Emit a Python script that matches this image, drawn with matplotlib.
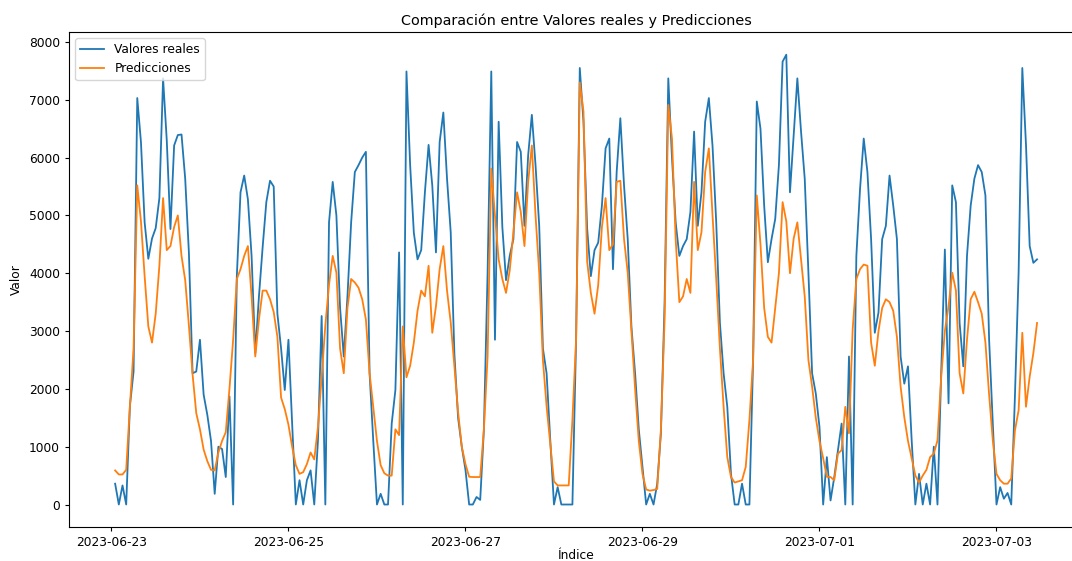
import numpy as np
import pandas as pd
import matplotlib
matplotlib.use('Agg')
import matplotlib.pyplot as plt
import matplotlib.dates as mdates

# hourly series, starting 2023-06-23 01:00
start = '2023-06-23 01:00'

valores_reales = [
  360, 0, 330, 0, 1700, 2300, 7030, 6270, 4880, 4250,
  4600, 4780, 5300, 7370, 6300, 4765, 6210, 6390, 6400, 5635,
  4360, 2270, 2300, 2850, 1900, 1550, 1100, 185, 1000, 960,
  475, 1870, 0, 3950, 5400, 5690, 5280, 4300, 2620, 3600,
  4450, 5230, 5600, 5500, 3300, 2700, 1980, 2850, 1400, 0,
  420, 0, 420, 590, 0, 1110, 3260, 0, 4880, 5580,
  5000, 3400, 2560, 3600, 4880, 5750, 5870, 6000, 6100, 2270,
  1100, 0, 185, 0, 0, 1400, 1980, 4360, 0, 7490,
  5870, 4700, 4240, 4400, 5400, 6220, 5520, 4360, 6270, 6780,
  5635, 4710, 2600, 1500, 1000, 600, 0, 0, 130, 80,
  1300, 4010, 7490, 2850, 6620, 4800, 3880, 4300, 4590, 6270,
  6100, 4820, 6040, 6740, 5870, 4820, 2700, 2270, 1110, 0,
  300, 0, 0, 0, 0, 2850, 7550, 6620, 4770, 3950,
  4400, 4530, 5170, 6160, 6330, 4070, 5750, 6680, 5520, 4590,
  3080, 2270, 1300, 650, 0, 185, 0, 360, 1230, 3500,
  7370, 6000, 4880, 4300, 4470, 4590, 5060, 6450, 4820, 5400,
  6620, 7030, 6200, 4880, 3140, 2270, 1690, 530, 0, 0,
  360, 0, 0, 2500, 6970, 6500, 5170, 4190, 4590, 4940,
  5870, 7660, 7780, 5400, 6400, 7370, 6450, 5635, 4010, 2270,
  1920, 1340, 0, 820, 70, 470, 940, 1400, 0, 2560,
  0, 4300, 5460, 6330, 5750, 4590, 2970, 3320, 4590, 4820,
  5690, 5170, 4590, 2560, 2090, 2390, 1110, 0, 530, 0,
  360, 0, 1000, 0, 2270, 4410, 1750, 5520, 5230, 3140,
  2390, 4300, 5170, 5635, 5870, 5750, 5345, 2850, 1400, 0,
  300, 100, 200, 0, 1870, 4010, 7550, 6220, 4470, 4180,
  4240,
]

predicciones = [
  590, 520, 520, 600, 1690, 2700, 5520, 4900, 3950, 3080,
  2800, 3300, 4130, 5300, 4400, 4470, 4800, 5000, 4300, 3880,
  3100, 2250, 1580, 1300, 950, 750, 600, 590, 900, 1100,
  1250, 2000, 2850, 3900, 4070, 4300, 4470, 3600, 2560, 3200,
  3700, 3700, 3550, 3330, 2900, 1850, 1650, 1380, 1000, 680,
  530, 560, 700, 900, 780, 1340, 2200, 3100, 3800, 4300,
  4010, 2700, 2270, 3400, 3900, 3840, 3750, 3550, 3200, 2270,
  1690, 1100, 680, 540, 500, 500, 1300, 1200, 3080, 2200,
  2400, 2800, 3350, 3700, 3600, 4130, 2970, 3430, 4070, 4470,
  3700, 3150, 2390, 1600, 1000, 700, 480, 475, 475, 475,
  1300, 2560, 5810, 5000, 4240, 3900, 3660, 4050, 4700, 5400,
  5060, 4470, 5580, 6210, 5000, 4010, 2500, 1700, 1050, 400,
  330, 330, 330, 330, 1460, 2850, 7300, 6800, 4200, 3660,
  3300, 3800, 4800, 5300, 4400, 4500, 5580, 5600, 4590, 4010,
  3000, 2000, 1100, 530, 260, 240, 250, 270, 1300, 3200,
  6910, 6330, 4590, 3500, 3600, 3900, 3660, 5580, 4400, 4710,
  5750, 6160, 5000, 3900, 2700, 1690, 820, 475, 380, 400,
  420, 650, 1460, 2500, 5345, 4500, 3400, 2900, 2800, 3400,
  4000, 5230, 4900, 4000, 4600, 4880, 4240, 3600, 2500, 2040,
  1500, 1100, 800, 480, 475, 420, 880, 940, 1690, 1230,
  3030, 3900, 4070, 4150, 4130, 2800, 2400, 3000, 3400, 3550,
  3500, 3350, 2900, 2040, 1510, 1100, 800, 500, 380, 500,
  600, 820, 880, 1110, 2200, 3000, 3430, 4010, 3700, 2270,
  1920, 2850, 3550, 3680, 3500, 3300, 2800, 1900, 1110, 530,
  420, 360, 360, 450, 1280, 1630, 2970, 1690, 2210, 2620,
  3140,
]

fechas = pd.date_range(start, periods=len(valores_reales), freq='h')

plt.rcParams['font.size'] = 8.8
plt.rcParams['axes.titlesize'] = 10.4
plt.rcParams['lines.linewidth'] = 1.3
plt.rcParams['xtick.major.size'] = 3
plt.rcParams['ytick.major.size'] = 3

fig = plt.figure(figsize=(10.72, 5.61), dpi=100)
# axes run a little past the right edge of the canvas
ax = fig.add_axes([0.0644, 0.0606, 0.946, 0.882])

ax.plot(fechas, valores_reales, label='Valores reales')
ax.plot(fechas, predicciones, label='Predicciones')

ax.set_title('Comparación entre Valores reales y Predicciones', pad=5)
ax.set_xlabel('Índice', labelpad=0)
ax.set_ylabel('Valor')
ax.legend(loc='upper left')

ax.xaxis.set_major_locator(mdates.DayLocator(interval=2))
ax.xaxis.set_major_formatter(mdates.DateFormatter('%Y-%m-%d'))

plt.savefig('out.png', dpi=100)
